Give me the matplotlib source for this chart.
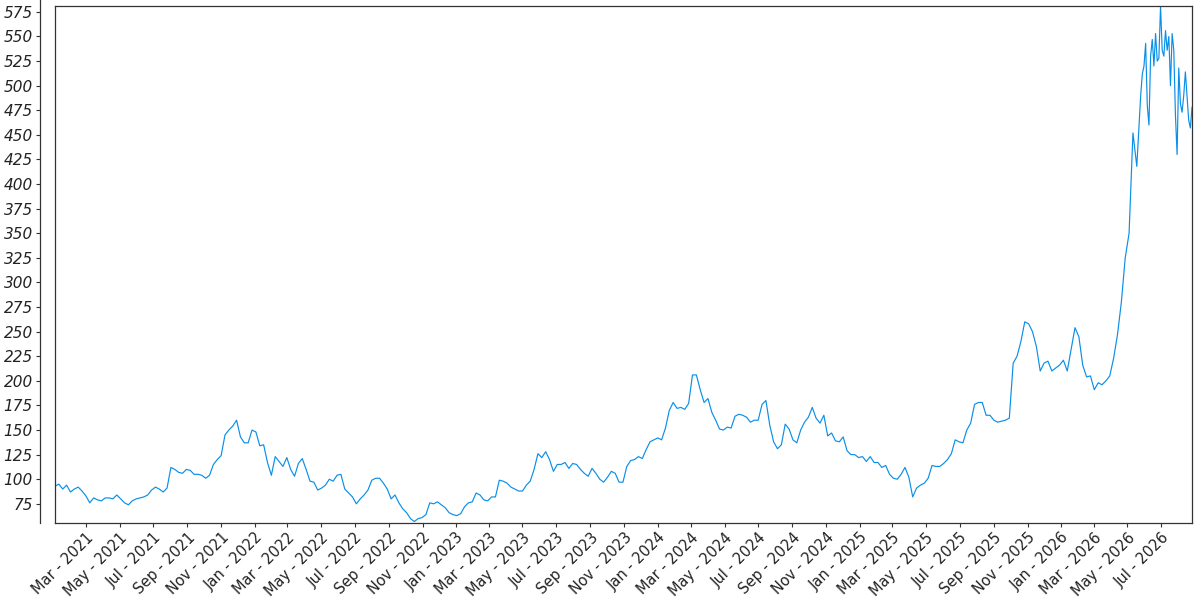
import pandas as pd
import matplotlib
matplotlib.use('Agg')
import matplotlib.pyplot as plt
import matplotlib.dates as mdates
from matplotlib.lines import Line2D

# weekly closes, 2021-01-04 .. 2026-05-25
weekly_start = '2021-01-04'
weekly_values = [
    93, 95, 90, 94, 87, 90, 92, 88, 83, 76,
    81, 79, 78, 81, 81, 80, 84, 80, 76, 74,
    78, 80, 81, 82, 84, 89, 92, 90, 87, 91,
    112, 110, 107, 106, 110, 109, 105, 105, 104, 101,
    104, 115, 120, 124, 145, 150, 154, 160, 143, 137,
    137, 150, 148, 134, 135, 117, 104, 123, 118, 113,
    122, 110, 103, 116, 121, 110, 98, 97, 89, 91,
    94, 100, 98, 104, 105, 90, 86, 82, 75, 80,
    84, 89, 99, 101, 101, 96, 90, 80, 84, 76,
    70, 66, 60, 57, 60, 61, 64, 76, 75, 77,
    74, 71, 66, 64, 63, 65, 72, 76, 77, 86,
    84, 79, 78, 82, 82, 99, 98, 96, 92, 90,
    88, 88, 94, 98, 110, 126, 122, 128, 120, 108,
    115, 115, 117, 111, 116, 115, 110, 106, 103, 111,
    106, 100, 97, 102, 108, 106, 97, 97, 113, 119,
    120, 123, 121, 130, 138, 140, 142, 140, 152, 170,
    178, 172, 173, 171, 177, 206, 206, 191, 178, 182,
    168, 160, 151, 150, 153, 152, 164, 166, 165, 163,
    158, 160, 160, 176, 180, 155, 138, 131, 135, 156,
    151, 140, 137, 150, 158, 163, 173, 162, 157, 165,
    144, 147, 139, 138, 143, 129, 125, 125, 122, 123,
    118, 123, 117, 117, 112, 114, 105, 101, 100, 105,
    112, 102, 82, 91, 94, 96, 101, 114, 113, 113,
    116, 120, 126, 140, 138, 137, 150, 157, 176, 178,
    178, 165, 165, 160, 158, 159, 160, 162, 218, 225,
    240, 260, 258, 250, 235, 210, 218, 220, 210, 213,
    216, 221, 210, 232, 254, 245, 216, 204, 205, 191,
    198, 196, 200, 205, 223, 247, 280, 325, 350, 452,
    418, 490,
]

# last stretch, every 3 days from 2026-05-28
recent_start = '2026-05-28'
recent_values = [
    512, 520, 543, 480, 460, 530, 547, 520, 553, 525,
    528, 581, 536, 530, 556, 536, 550, 500, 553, 536,
    470, 430, 518, 482, 473, 490, 514, 490, 465, 457,
    478,
]

weekly = pd.Series(weekly_values,
                   index=pd.date_range(weekly_start, periods=len(weekly_values), freq='7D'))
recent = pd.Series(recent_values,
                   index=pd.date_range(recent_start, periods=len(recent_values), freq='3D'))
prices = pd.concat([weekly, recent])

fig = plt.figure(figsize=(12, 6), dpi=100)
ax = fig.add_axes([55 / 1200, 77 / 600, 1137 / 1200, 517 / 600])

ax.plot(prices.index, prices.values, color='#0a8fe8', linewidth=0.85)

ax.set_xlim(prices.index[0], prices.index[-1])
ax.set_ylim(prices.min() - 1.5, prices.max())

ax.xaxis.set_major_locator(mdates.MonthLocator(bymonth=[1, 3, 5, 7, 9, 11]))
ax.xaxis.set_major_formatter(mdates.DateFormatter('%b - %Y'))
ax.set_yticks(range(75, 576, 25))

for s in ax.spines.values():
    s.set_color('#333333')
    s.set_linewidth(0.9)
ax.spines['left'].set_position(('outward', 11))
ax.spines['left'].set_bounds(prices.min() - 1.5, prices.max() + 6)
# box edge where the axis used to be
ax.add_line(Line2D([0, 0], [0, 1], transform=ax.transAxes, color='#333333',
                   linewidth=0.9, clip_on=False))

ax.tick_params(axis='y', length=3, width=0.8, pad=2, labelsize=11,
               colors='#333333', labelcolor='#222222')
ax.tick_params(axis='x', length=3, width=0.8, pad=2, labelsize=10.5,
               colors='#333333', labelcolor='#222222')
for lbl in ax.get_yticklabels():
    lbl.set_fontstyle('italic')
for lbl in ax.get_xticklabels():
    lbl.set_rotation(45)
    lbl.set_ha('right')
    lbl.set_rotation_mode('anchor')

fig.savefig('out.png', dpi=100)
